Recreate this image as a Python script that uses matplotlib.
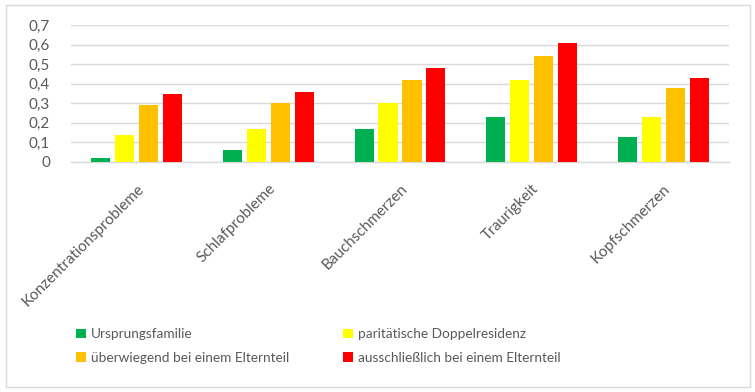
import matplotlib.pyplot as plt
import numpy as np
from matplotlib.patches import Rectangle

plt.rcParams['font.family'] = ['Lato', 'DejaVu Sans']

# --- Data ---
categories = ['Konzentrationsprobleme', 'Schlafprobleme', 'Bauchschmerzen', 'Traurigkeit', 'Kopfschmerzen']
series_names = ['Ursprungsfamilie', 'paritätische Doppelresidenz',
                'überwiegend bei einem Elternteil', 'ausschließlich bei einem Elternteil']
ursprung = [0.02, 0.06, 0.17, 0.23, 0.13]
paritaet = [0.14, 0.17, 0.30, 0.42, 0.23]
ueberwiegend = [0.29, 0.30, 0.42, 0.54, 0.38]
ausschl = [0.35, 0.36, 0.48, 0.61, 0.43]
yticks = [0, 0.1, 0.2, 0.3, 0.4, 0.5, 0.6, 0.7]
ytick_labels = ['0', '0,1', '0,2', '0,3', '0,4', '0,5', '0,6', '0,7']

colors = ['#00B050', '#FFFF00', '#FFC000', '#FF0000']
text_col = '#595959'
grid_col = '#D9D9D9'

fig = plt.figure(figsize=(7.55, 3.92), dpi=100)
# chart frame
fig.patches.append(Rectangle((6 / 755, 1 - 387 / 392), 744 / 755, 382 / 392,
                             transform=fig.transFigure, fill=False,
                             edgecolor=grid_col, linewidth=1))

ax = fig.add_axes([71 / 755, 1 - 162 / 392, 658 / 755, 137 / 392])
x = np.arange(len(categories))
step = 0.182
width = 0.145
bars = []
for i, (vals, name) in enumerate(zip([ursprung, paritaet, ueberwiegend, ausschl], series_names)):
    bars.append(ax.bar(x + (i - 1.5) * step, vals, width, color=colors[i], label=name, zorder=3))

ax.set_xlim(-0.5, len(categories) - 0.5)
ax.set_ylim(0, 0.7)
ax.set_yticks(yticks)
ax.set_yticklabels(ytick_labels)
ax.set_xticks(x)
ax.set_xticklabels(categories, rotation=45, ha='right', va='top',
                   rotation_mode='anchor')
ax.tick_params(axis='both', length=0, labelsize=11, colors=text_col)
ax.tick_params(axis='y', pad=15)
ax.tick_params(axis='x', pad=14)
ax.grid(axis='y', color=grid_col, linewidth=1, zorder=0)
for s in ['top', 'right', 'left']:
    ax.spines[s].set_visible(False)
ax.spines['bottom'].set_color(grid_col)
ax.spines['bottom'].set_linewidth(1)

# legend filled row by row (matplotlib fills by column)
order = [0, 2, 1, 3]
leg = fig.legend([bars[k] for k in order], [series_names[k] for k in order],
                 loc='upper left', bbox_to_anchor=(64 / 755, 1 - 316 / 392), ncol=2,
                 frameon=False, fontsize=9.8, handlelength=0.75, handleheight=0.75,
                 handletextpad=0.3, columnspacing=4.0, labelspacing=0.85)
for t in leg.get_texts():
    t.set_color(text_col)

plt.savefig('out.png', dpi=100)
